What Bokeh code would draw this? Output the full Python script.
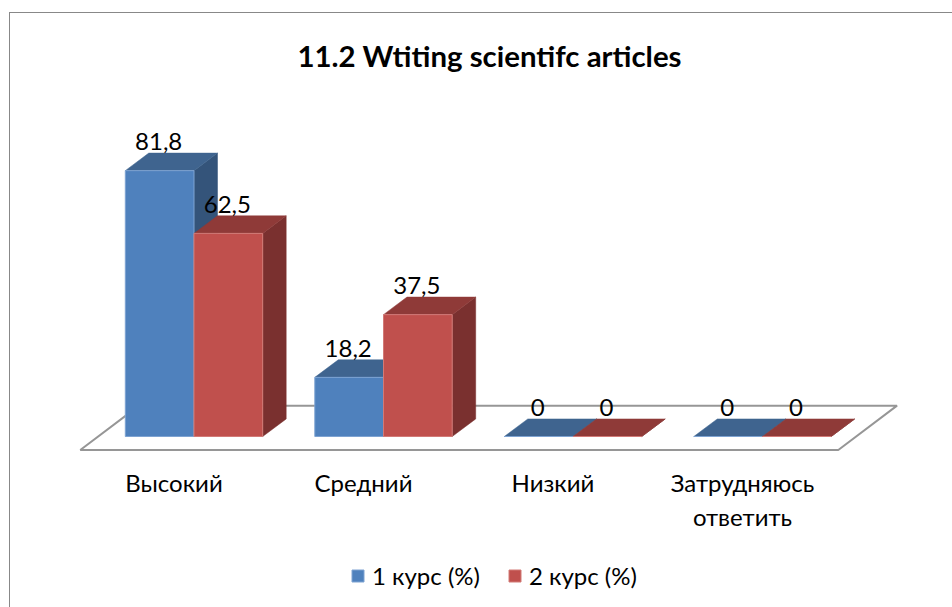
from bokeh.plotting import figure
from bokeh.models import Legend, LegendItem, ColumnDataSource
from bokeh.core.properties import value
from bokeh.embed import file_html
from bokeh.resources import INLINE

title_text = "11.2 Wtiting scientifc articles"
categories = ["Высокий", "Средний", "Низкий", "Затрудняюсь\nответить"]
series_names = ["1 курс (%)", "2 курс (%)"]
course1 = [81.8, 18.2, 0, 0]
course2 = [62.5, 37.5, 0, 0]

FONT = "Lato"
BAR_W = 0.3625
DX = 0.124
DY = 5.4
PX_X = 189.5
PX_Y = 3.25
MX, MY = 9, 12
CX, CY = MX + 1, MY + 1
W, H = 952 - MX, 607 - MY
TOP = 78

x_start = (CX - 193.5) / PX_X
y_start = (436 - (CY + H)) / PX_Y
y_end = (436 - TOP) / PX_Y

p = figure(width=W, height=H, output_backend="svg", toolbar_location=None,
           x_axis_type=None, y_axis_type=None, min_border=0, min_border_top=TOP - CY,
           x_range=(x_start, x_start + W / PX_X), y_range=(y_start, y_end),
           title=title_text, outline_line_color=None, background_fill_color="white",
           margin=(MY, 0, 0, MX),
           styles={"border-top": "1.5px solid #888888", "border-left": "1.5px solid #888888"})
p.grid.visible = False
p.title.align = "left"
p.title.offset = 287
p.title.text_font = FONT
p.title.text_font_style = "bold"
p.title.text_font_size = "29.4px"
p.title.text_color = "black"
p.title.standoff = 12

# floor
p.patch([-0.6, 3.4, 3.4 + 0.31, -0.6 + 0.31], [-4.15, -4.15, 9.5, 9.5],
        fill_color="white", line_color="#969696", line_width=2)


def draw(values, left_of, front, top, side, edge):
    sides, tops, fronts = ([], []), ([], []), ([], [])
    for i, v in enumerate(values):
        l = left_of(i)
        r = l + BAR_W
        sides[0].append([r, r + DX, r + DX, r])
        sides[1].append([0, DY, v + DY, v])
        tops[0].append([l, r, r + DX, l + DX])
        tops[1].append([v, v, v + DY, v + DY])
        fronts[0].append([l, r, r, l])
        fronts[1].append([0, 0, v, v])
    p.patches(sides[0], sides[1], fill_color=side, line_color=side, line_width=0.5)
    p.patches(tops[0], tops[1], fill_color=top, line_color=top, line_width=0.5)
    return p.patches(fronts[0], fronts[1], fill_color=front, line_color=edge, line_width=1)


r1 = draw(course1, lambda i: i - BAR_W, "#4f81bd", "#3f648f", "#34547a", "#7ea3d2")
r2 = draw(course2, lambda i: i, "#c0504d", "#8f3a38", "#7a302f", "#d27a77")

# data labels
for vals, off in ((course1, -BAR_W / 2), (course2, BAR_W / 2)):
    src = ColumnDataSource(dict(x=[i + off for i in range(4)], y=vals,
                                t=[f"{v:g}".replace(".", ",") for v in vals]))
    p.text("x", "y", text="t", source=src, text_font=value(FONT), text_font_size="24px",
           text_align="center", text_baseline="alphabetic", y_offset=-29, x_offset=-1,
           text_color="black")

# category labels
p.text(list(range(4)), [-9.6] * 4, text=categories, text_font=value(FONT),
       text_font_size="24px", text_align="center", text_baseline="top", x_offset=-20,
       text_line_height=1.18, text_color="black")

legend = Legend(items=[LegendItem(label=series_names[0], renderers=[r1]),
                       LegendItem(label=series_names[1], renderers=[r2])],
                orientation="horizontal", location=(340, 18), spacing=27,
                glyph_width=15, glyph_height=15, label_standoff=7, padding=0, margin=0,
                border_line_color=None, background_fill_alpha=0,
                label_text_font=FONT, label_text_font_size="24px", label_text_color="black")
p.add_layout(legend, "center")

open("out.html", "w").write(file_html(p, INLINE))
